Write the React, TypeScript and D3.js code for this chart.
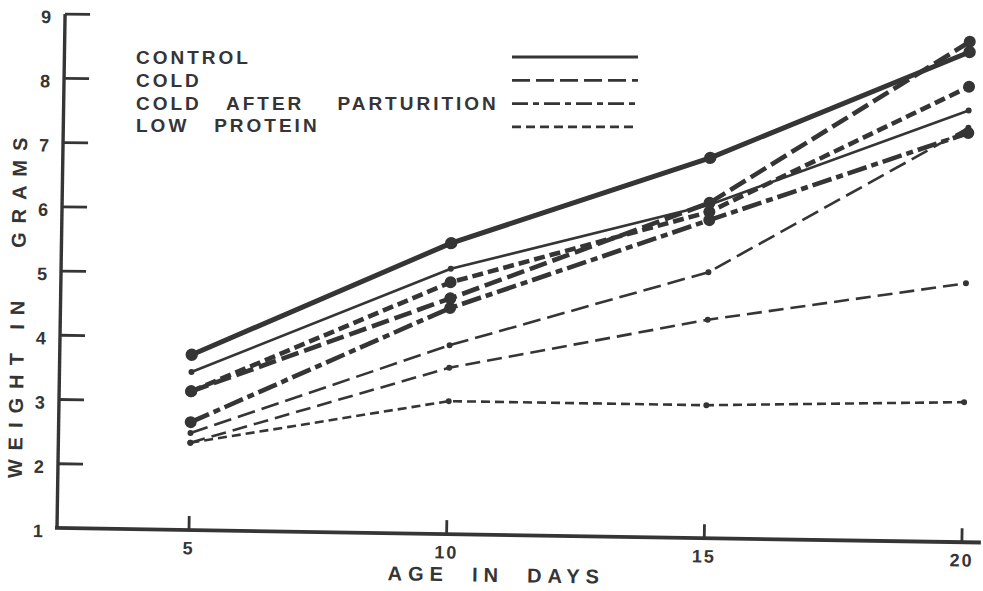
import React from 'react';
import * as d3 from 'd3';

// ---- data ----
const days = [5, 10, 15, 20];
const controlHeavy = [3.73, 5.53, 6.92, 8.63];
const coldHeavy = [3.16, 4.67, 6.22, 8.79];
const coldAfterHeavy = [2.68, 4.52, 5.95, 7.37];
const lowProteinHeavy = [3.16, 4.92, 6.08, 8.09];
const controlThin = [3.46, 5.13, 6.19, 7.72];
const coldThin = [2.51, 3.94, 5.14, 7.45];
const coldAfterThin = [2.36, 3.59, 4.4, 5.03];
const lowProteinThin = [2.36, 3.07, 3.07, 3.18];

const yTicks = [1, 2, 3, 4, 5, 6, 7, 8, 9];
const xTicks = [5, 10, 15, 20];
const legendLabels = ['CONTROL', 'COLD', 'COLD   AFTER    PARTURITION', 'LOW   PROTEIN'];

const INK = '#353535';
const FONT = "'Liberation Sans', Arial, sans-serif";

const series = [
  { values: controlThin, width: 2.6, dash: '', r: 3 },
  { values: coldThin, width: 2.6, dash: '18 7', r: 3 },
  { values: coldAfterThin, width: 2.6, dash: '15 7', r: 3 },
  { values: lowProteinThin, width: 2.6, dash: '9 5', r: 3 },
  { values: coldAfterHeavy, width: 4.6, dash: '20 5 7 5', r: 6 },
  { values: lowProteinHeavy, width: 4.6, dash: '11 5', r: 6 },
  { values: coldHeavy, width: 4.6, dash: '18 6', r: 6 },
  { values: controlHeavy, width: 5, dash: '', r: 6.2 },
];

const legendDash = ['', '18 6', '16 5 6 5', '9 5'];

export default function App() {
  const x = d3.scaleLinear().domain([5, 20]).range([189, 962]);
  const y = d3.scaleLinear().domain([1, 9]).range([528, 14]);
  const line = d3
    .line<number>()
    .x((_, i) => x(days[i]))
    .y((d) => y(d));

  return (
    <div style={{ position: 'fixed', left: 0, top: 0 }}>
      <svg width={983} height={591} style={{ display: 'block', background: '#fff' }}>
        <rect width={983} height={591} fill="#fff" />
        <g transform="rotate(0.9 57 528)">
          {/* axes */}
          <line x1={57} y1={y(9)} x2={57} y2={528} stroke={INK} strokeWidth={3.4} />
          <line x1={55} y1={528} x2={981} y2={528} stroke={INK} strokeWidth={3.8} />
          {yTicks.filter((t) => t > 1).map((t) => (
            <line key={'yt' + t} x1={57} x2={82} y1={y(t)} y2={y(t)} stroke={INK} strokeWidth={2.8} />
          ))}
          {yTicks.map((t) => (
            <text key={'yl' + t} x={38} y={y(t) + 3} dy="0.35em" textAnchor="middle"
              fontFamily={FONT} fontWeight="bold" fontSize={18} fill={INK}>{t}</text>
          ))}
          {xTicks.map((t) => (
            <line key={'xt' + t} x1={x(t)} x2={x(t)} y1={528} y2={514} stroke={INK} strokeWidth={2.8} />
          ))}
          {xTicks.map((t) => (
            <text key={'xl' + t} x={x(t)} y={546} dy="0.35em" textAnchor="middle"
              fontFamily={FONT} fontWeight="bold" fontSize={18} letterSpacing={2} fill={INK}>{t}</text>
          ))}
          <text x={497} y={568} dy="0.35em" textAnchor="middle" fontFamily={FONT} fontWeight="bold"
            fontSize={20} letterSpacing={6} fill={INK} style={{ whiteSpace: 'pre' }}>AGE  IN  DAYS</text>
          <text transform="translate(14 304) rotate(-90)" dy="0.35em" textAnchor="middle" fontFamily={FONT}
            fontWeight="bold" fontSize={20} letterSpacing={9} fill={INK} style={{ whiteSpace: 'pre' }}>WEIGHT IN   GRAMS</text>

          {/* series */}
          {series.map((s, i) => (
            <g key={'s' + i}>
              <path d={line(s.values) || ''} fill="none" stroke={INK} strokeWidth={s.width}
                strokeDasharray={s.dash || undefined} strokeLinecap="butt" strokeLinejoin="round" />
              {s.values.map((v, j) => (
                <circle key={j} cx={x(days[j])} cy={y(v)} r={s.r} fill={INK} />
              ))}
            </g>
          ))}
        </g>

        {/* legend */}
        {legendLabels.map((lab, i) => (
          <g key={'lg' + i}>
            <text x={136} y={57.5 + i * 22.7} dy="0.35em" fontFamily={FONT} fontWeight="bold" fontSize={19}
              letterSpacing={3} fill={INK} style={{ whiteSpace: 'pre' }}>{lab}</text>
            <line x1={512} x2={638} y1={57 + i * 23.3} y2={57 + i * 23.3} stroke={INK} strokeWidth={2.8}
              strokeDasharray={legendDash[i] || undefined} />
          </g>
        ))}
      </svg>
    </div>
  );
}
